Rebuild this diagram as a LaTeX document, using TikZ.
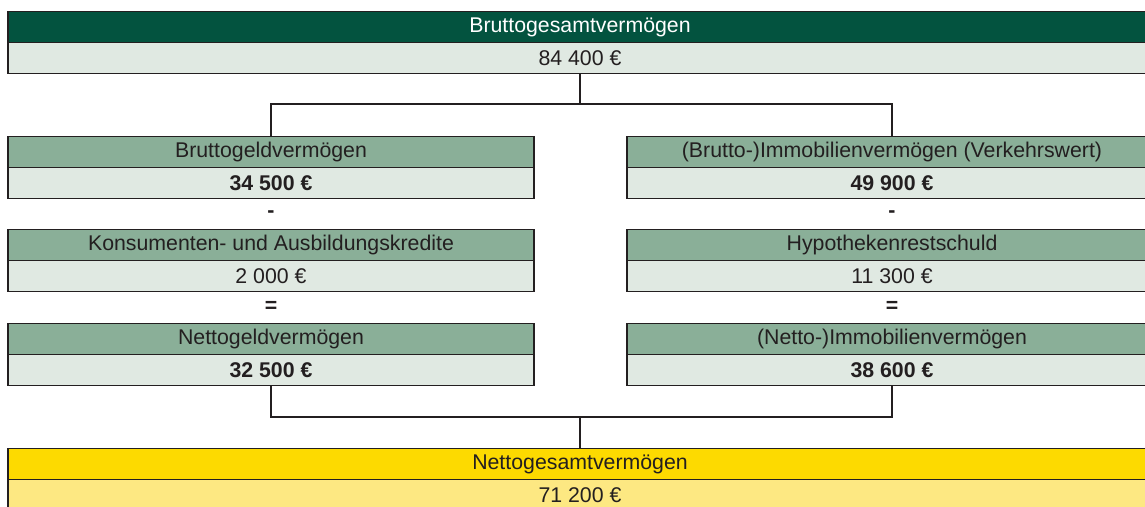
\documentclass[tikz,border=0pt]{standalone}
\usepackage{fontspec}
\setmainfont{Liberation Sans}
\definecolor{darkgreen}{HTML}{03533F}
\definecolor{midgreen}{HTML}{8AAF98}
\definecolor{palegreen}{HTML}{E0E9E2}
\definecolor{gold}{HTML}{FDDA00}
\definecolor{paleyellow}{HTML}{FDE882}
\definecolor{ink}{HTML}{231F20}
\begin{document}
\begin{tikzpicture}[x=1pt,y=-1pt,
  cell/.style={draw=ink,line width=1.3pt,rectangle,inner sep=0pt,minimum height=31pt,
    text=ink,font=\fontsize{21.3}{24}\selectfont,anchor=north},
  topcell/.style={cell,minimum width=1144pt},
  colcell/.style={cell,minimum width=526pt},
  rcolcell/.style={cell,minimum width=530pt},
  op/.style={text=ink,font=\bfseries\fontsize{21.3}{24}\selectfont,inner sep=0pt},
  link/.style={draw=ink,line width=1.3pt}]
\useasboundingbox (0,0) rectangle (1145,506);
% top
\node[topcell,fill=darkgreen,text=white] (th) at (580,11) {Bruttogesamtvermögen};
\node[topcell,fill=palegreen] (tv) at (580,42) {84 400 €};
% left column
\node[colcell,fill=midgreen] (l1h) at (271,136) {Bruttogeldvermögen};
\node[colcell,fill=palegreen] (l1v) at (271,167) {\bfseries 34 500 €};
\node[op] (lminus) at (271,214) {-};
\node[colcell,fill=midgreen] (l2h) at (271,229) {Konsumenten- und Ausbildungskredite};
\node[colcell,fill=palegreen] (l2v) at (271,260) {2 000 €};
\node[op] (leq) at (271,307) {=};
\node[colcell,fill=midgreen] (l3h) at (271,323) {Nettogeldvermögen};
\node[colcell,fill=palegreen] (l3v) at (271,354) {\bfseries 32 500 €};
% right column
\node[rcolcell,fill=midgreen] (r1h) at (892,136) {(Brutto-)Immobilienvermögen (Verkehrswert)};
\node[rcolcell,fill=palegreen] (r1v) at (892,167) {\bfseries 49 900 €};
\node[op] (rminus) at (892,214) {-};
\node[rcolcell,fill=midgreen] (r2h) at (892,229) {Hypothekenrestschuld};
\node[rcolcell,fill=palegreen] (r2v) at (892,260) {11 300 €};
\node[op] (req) at (892,307) {=};
\node[rcolcell,fill=midgreen] (r3h) at (892,323) {(Netto-)Immobilienvermögen};
\node[rcolcell,fill=palegreen] (r3v) at (892,354) {\bfseries 38 600 €};
% bottom
\node[topcell,fill=gold] (bh) at (580,448) {Nettogesamtvermögen};
\node[topcell,fill=paleyellow] (bv) at (580,479) {71 200 €};
% connectors
\coordinate (tsplit) at (580,104);
\draw[link] (tv.south) -- (tsplit);
\draw[link] (l1h.north) |- (tsplit) -| (r1h.north);
\coordinate (bjoin) at (580,417);
\draw[link] (l3v.south) |- (bjoin) -| (r3v.south);
\draw[link] (bjoin) -- (bh.north);
\end{tikzpicture}
\end{document}
